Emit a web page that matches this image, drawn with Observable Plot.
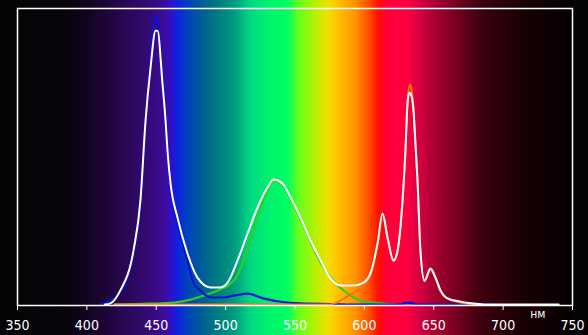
<!DOCTYPE html>
<html>
<head>
<meta charset="utf-8">
<script src="https://cdn.jsdelivr.net/npm/d3@7"></script>
<script src="https://cdn.jsdelivr.net/npm/@observablehq/plot@0.6"></script>
<style>
  html, body { margin: 0; padding: 0; background: #050505; }
  #chart { width: 588px; height: 335px; overflow: hidden; }
  #chart text { font-family: "Liberation Sans Narrow", "DejaVu Sans Condensed", "Liberation Sans", sans-serif; font-stretch: condensed; }
</style>
</head>
<body>
<div id="chart"></div>
<script>
// Axis ticks (nm)
const tickValues = [350, 400, 450, 500, 550, 600, 650, 700, 750];
const unitLabel = "нм";
const unitLabelAt = 725;

// Background spectrum colour stops
const bgStopsNm = [350, 385, 400, 410, 425, 434, 446, 456, 461, 465, 472, 482, 494, 506, 518, 530, 545, 552, 565, 574, 581, 594, 603, 610, 616, 630, 641, 653, 666, 677, 689, 713, 738, 750];
const bgStopsColor = ["#050507", "#07040c", "#120420", "#1a0530", "#26074f", "#2d0860", "#36097a", "#3a0c9a", "#3010c8", "#1020e0", "#0040c0", "#005a9a", "#007a80", "#009a80", "#00d880", "#00f070", "#00ff60", "#60ff20", "#b8f000", "#f0e000", "#ffc000", "#ff9000", "#ff5000", "#ff1000", "#ff0038", "#ff0040", "#d00040", "#a00030", "#780020", "#500015", "#35000c", "#1a0005", "#0a0003", "#050000"];

// Total spectrum (white)
const whiteNm = [413, 417, 424, 433.6, 438.6, 442.3, 445.9, 449.5, 450.9, 454.5, 456.7, 458.1, 460.3, 465.3, 472.5, 479.7, 489.1, 496.3, 501.4, 508.6, 515.8, 523, 530.2, 534.5, 541, 546.8, 554, 561.2, 568.4, 575.6, 582.8, 592.2, 599.4, 604.4, 609.5, 613.1, 616.7, 621, 623.9, 627.5, 629.6, 631.1, 632.4, 633.6, 635.4, 636.8, 638.3, 640.4, 643.3, 647.7, 651.3, 654.9, 659.9, 669.3, 678.6, 693.1, 740];
const whiteVal = [0.003, 0.007, 0.05, 0.185, 0.354, 0.623, 0.801, 0.925, 0.925, 0.747, 0.623, 0.522, 0.411, 0.296, 0.175, 0.094, 0.061, 0.061, 0.077, 0.152, 0.242, 0.33, 0.397, 0.424, 0.411, 0.364, 0.296, 0.219, 0.152, 0.091, 0.067, 0.067, 0.077, 0.108, 0.209, 0.31, 0.229, 0.152, 0.185, 0.354, 0.522, 0.68, 0.717, 0.71, 0.657, 0.545, 0.421, 0.185, 0.084, 0.125, 0.094, 0.051, 0.024, 0.013, 0.007, 0.003, 0.003];

// Blue component
const blueNm = [410, 424.2, 433.6, 438.6, 442.3, 445.9, 450.2, 453.1, 456.7, 460.3, 465.3, 472.5, 477, 481.9, 489.1, 498, 507, 515.8, 527, 544, 554, 575.6, 597, 626, 629, 634, 638, 693];
const blueVal = [0.003, 0.045, 0.175, 0.34, 0.606, 0.83, 0.975, 0.86, 0.63, 0.404, 0.279, 0.152, 0.075, 0.05, 0.027, 0.027, 0.034, 0.04, 0.024, 0.01, 0.007, 0.005, 0.003, 0.003, 0.009, 0.009, 0.003, 0.003];

// Green component
const greenNm = [420, 445, 463, 475, 485, 494, 502, 507, 512, 517, 523, 530, 534.5, 541, 546.8, 554, 561.2, 568.4, 576, 583, 590, 597, 606, 614, 622.4];
const greenVal = [0.003, 0.006, 0.01, 0.02, 0.035, 0.05, 0.068, 0.09, 0.14, 0.21, 0.3, 0.385, 0.42, 0.407, 0.36, 0.293, 0.215, 0.145, 0.092, 0.058, 0.034, 0.016, 0.01, 0.006, 0.003];

// Red component
const redNm = [420, 450, 575, 580, 586.4, 593.6, 599.4, 604.4, 609.5, 613.1, 616.7, 621, 623.9, 627.5, 629.6, 631.1, 633, 634.2, 635.4, 636.8, 638.3, 640.4, 643.3, 647.7, 651.3, 654.9, 659.9, 669.3, 683.8];
const redVal = [0.003, 0.003, 0.003, 0.01, 0.027, 0.047, 0.067, 0.104, 0.205, 0.306, 0.226, 0.148, 0.182, 0.35, 0.519, 0.69, 0.745, 0.72, 0.663, 0.545, 0.418, 0.182, 0.081, 0.121, 0.091, 0.047, 0.024, 0.01, 0.003];

const toRows = (xs, ys) => xs.map((x, i) => ({nm: x, v: ys[i]}));
const white = toRows(whiteNm, whiteVal);
const blue = toRows(blueNm, blueVal);
const green = toRows(greenNm, greenVal);
const red = toRows(redNm, redVal);

const bgColor = d3.scaleLinear().domain(bgStopsNm).range(bgStopsColor).interpolate(d3.interpolateRgb);
const step = 0.5;
const bgSteps = d3.range(350, 750, step);

const marginTop = 8, marginBottom = 30;
const curve = "monotone-x";

const plot = Plot.plot({
  width: 588,
  height: 335,
  marginLeft: 17,
  marginRight: 16,
  marginTop,
  marginBottom,
  style: {background: "#050505", color: "white", fontSize: "14px"},
  x: {domain: [350, 750], label: null},
  y: {domain: [0, 1], axis: null},
  marks: [
    Plot.rect(bgSteps, {
      x1: d => d,
      x2: d => Math.min(d + step * 1.6, 750),
      fill: d => bgColor(d),
      insetTop: -marginTop,
      insetBottom: -marginBottom,
      shapeRendering: "crispEdges"
    }),
    Plot.line(green, {x: "nm", y: "v", stroke: "#2ed020", strokeWidth: 2.2, curve}),
    Plot.line(blue, {x: "nm", y: "v", stroke: "#0a12d8", strokeWidth: 2.2, curve}),
    Plot.line(red, {x: "nm", y: "v", stroke: "#ff7010", strokeWidth: 2, curve}),
    Plot.line(white, {x: "nm", y: "v", stroke: "#ffffff", strokeWidth: 2, curve}),
    Plot.frame({stroke: "white", strokeWidth: 1.5}),
    Plot.axisX({
      ticks: tickValues,
      tickSize: 5,
      tickPadding: 10,
      stroke: "white",
      fill: "white",
      fontSize: 14,
      label: null,
      tickFormat: d => String(d)
    }),
    Plot.text([unitLabel], {
      x: () => unitLabelAt,
      frameAnchor: "bottom",
      text: d => d,
      dy: 12,
      fill: "white",
      fontSize: 12,
      textAnchor: "middle"
    })
  ]
});

document.getElementById("chart").appendChild(plot);
</script>
</body>
</html>
